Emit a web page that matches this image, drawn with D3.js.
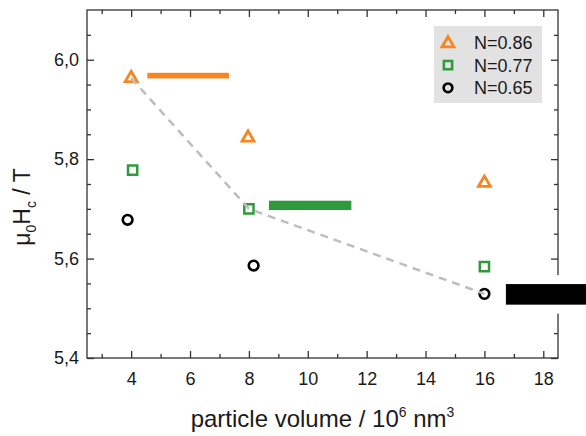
<!DOCTYPE html>
<html>
<head>
<meta charset="utf-8">
<script src="https://cdn.jsdelivr.net/npm/d3@7.9.0/dist/d3.min.js"></script>
<style>
  html, body { margin: 0; padding: 0; background: #fff; }
  svg { display: block; font-family: "Liberation Sans", Arial, sans-serif; }
</style>
</head>
<body>
<svg id="chart" width="586" height="436"></svg>
<script>
// values
const seriesNames = ['N=0.86', 'N=0.77', 'N=0.65'];
const seriesColors = ['#f7861f', '#2f9a3b', '#000000'];
const seriesShapes = ['triangle', 'square', 'circle'];

const volN086 = [4, 7.97, 16];
const hcN086 = [5.963, 5.843, 5.752];
const volN077 = [4.05, 8, 16];
const hcN077 = [5.778, 5.700, 5.584];
const volN065 = [3.88, 8.16, 16];
const hcN065 = [5.678, 5.586, 5.529];

// dashed guide through the best points
const guideVol = [4, 8, 16];
const guideHc = [5.963, 5.700, 5.529];

// horizontal bands (range in volume, level and half-width in Hc)
const bandStart = [4.55, 8.68, 16.73];
const bandEnd = [7.32, 11.48, 19.45];
const bandLevel = [5.968, 5.707, 5.528];
const bandHalf = [0.0057, 0.0094, 0.0207];

const xMajorTicks = [4, 6, 8, 10, 12, 14, 16, 18];
const xMinorTicks = [3, 5, 7, 9, 11, 13, 15, 17];
const yMajorTicks = [5.4, 5.6, 5.8, 6.0];
const yMinorTicks = d3.range(5.45, 6.1, 0.05).filter(v => !yMajorTicks.some(t => Math.abs(t - v) < 1e-6));

const width = 586, height = 436;
const margin = { top: 10, right: 28, bottom: 78, left: 87 };
const innerW = width - margin.left - margin.right;
const innerH = height - margin.top - margin.bottom;

const svg = d3.select('#chart');
const g = svg.append('g').attr('transform', `translate(${margin.left},${margin.top})`);

const x = d3.scaleLinear().domain([2.5, 18.5]).range([0, innerW]);
const y = d3.scaleLinear().domain([5.4, 6.1]).range([innerH, 0]);

const commaFmt = d3.formatLocale({ decimal: ',', thousands: '.', grouping: [3], currency: ['', ''] }).format('.1f');

const axisColor = '#333';
const textColor = '#1a1a1a';

function styleAxis(sel) {
  sel.select('.domain').remove();
  sel.selectAll('.tick line').attr('stroke', axisColor).attr('stroke-width', 1.3);
  sel.selectAll('.tick text').attr('fill', textColor).style('font-size', '18px');
}

// bottom axis
g.append('g').attr('transform', `translate(0,${innerH})`)
  .call(d3.axisBottom(x).tickValues(xMajorTicks).tickSizeInner(-7).tickSizeOuter(0).tickPadding(14).tickFormat(d3.format('d')))
  .call(styleAxis);
g.append('g').attr('transform', `translate(0,${innerH})`)
  .call(d3.axisBottom(x).tickValues(xMinorTicks).tickSizeInner(-4).tickSizeOuter(0).tickFormat(''))
  .call(styleAxis);
// top axis
g.append('g')
  .call(d3.axisTop(x).tickValues(xMajorTicks).tickSizeInner(-7).tickSizeOuter(0).tickFormat(''))
  .call(styleAxis);
g.append('g')
  .call(d3.axisTop(x).tickValues(xMinorTicks).tickSizeInner(-4).tickSizeOuter(0).tickFormat(''))
  .call(styleAxis);
// left axis
g.append('g')
  .call(d3.axisLeft(y).tickValues(yMajorTicks).tickSizeInner(-7).tickSizeOuter(0).tickPadding(8).tickFormat(commaFmt))
  .call(styleAxis);
g.append('g')
  .call(d3.axisLeft(y).tickValues(yMinorTicks).tickSizeInner(-4).tickSizeOuter(0).tickFormat(''))
  .call(styleAxis);
// right axis
g.append('g').attr('transform', `translate(${innerW},0)`)
  .call(d3.axisRight(y).tickValues(yMajorTicks).tickSizeInner(-7).tickSizeOuter(0).tickFormat(''))
  .call(styleAxis);
g.append('g').attr('transform', `translate(${innerW},0)`)
  .call(d3.axisRight(y).tickValues(yMinorTicks).tickSizeInner(-4).tickSizeOuter(0).tickFormat(''))
  .call(styleAxis);

// frame
g.append('rect')
  .attr('width', innerW).attr('height', innerH)
  .attr('fill', 'none').attr('stroke', axisColor).attr('stroke-width', 1.3);

// bands
bandLevel.forEach((lvl, i) => {
  g.append('rect')
    .attr('x', x(bandStart[i]))
    .attr('y', y(lvl + bandHalf[i]))
    .attr('width', x(bandEnd[i]) - x(bandStart[i]))
    .attr('height', y(lvl - bandHalf[i]) - y(lvl + bandHalf[i]))
    .attr('fill', seriesColors[i])
    .attr('stroke', i === 2 ? '#fff' : 'none')
    .attr('stroke-width', i === 2 ? 18 : 0)
    .style('paint-order', 'stroke');
});

// markers
function markerPath(shape, scale) {
  if (shape === 'triangle') return d3.symbol(d3.symbolTriangle, 62 * scale * scale)();
  if (shape === 'square') return d3.symbol(d3.symbolSquare, 85 * scale * scale)();
  return d3.symbol(d3.symbolCircle, Math.PI * 4.85 * 4.85 * scale * scale)();
}
const strokeW = { triangle: 2.8, square: 2.5, circle: 2.6 };

const seriesData = [
  volN086.map((v, i) => [v, hcN086[i]]),
  volN077.map((v, i) => [v, hcN077[i]]),
  volN065.map((v, i) => [v, hcN065[i]])
];

seriesData.forEach((pts, s) => {
  g.selectAll(null).data(pts).enter().append('path')
    .attr('transform', d => `translate(${x(d[0])},${y(d[1])})`)
    .attr('d', markerPath(seriesShapes[s], 1))
    .attr('fill', 'none')
    .attr('stroke', seriesColors[s])
    .attr('stroke-width', strokeW[seriesShapes[s]])
    .attr('stroke-linejoin', 'miter');
});

// dashed guide
const line = d3.line().x(d => x(d[0])).y(d => y(d[1]));
g.append('path')
  .datum(guideVol.map((v, i) => [v, guideHc[i]]))
  .attr('d', line)
  .attr('fill', 'none')
  .attr('stroke', '#bdbdbd')
  .attr('stroke-width', 2.5)
  .attr('stroke-dasharray', '8,6');

// legend
const legend = svg.append('g').attr('transform', 'translate(434,26)');
legend.append('rect').attr('width', 108).attr('height', 77).attr('fill', '#e2e2e2');
const rowY = [16.5, 39.2, 61.8];
seriesNames.forEach((name, i) => {
  legend.append('path')
    .attr('transform', `translate(14,${rowY[i] + (seriesShapes[i] === 'triangle' ? 1 : 0)})`)
    .attr('d', markerPath(seriesShapes[i], seriesShapes[i] === 'triangle' ? 1 : 0.9))
    .attr('fill', 'none')
    .attr('stroke', seriesColors[i])
    .attr('stroke-width', strokeW[seriesShapes[i]]);
  legend.append('text')
    .attr('x', 40).attr('y', rowY[i]).attr('dy', '0.36em')
    .attr('fill', textColor)
    .style('font-size', '18px')
    .text(name);
});

// x title
const xt = svg.append('text')
  .attr('x', margin.left + innerW / 2).attr('y', 427)
  .attr('text-anchor', 'middle').attr('fill', textColor)
  .style('font-size', '24px');
xt.append('tspan').text('particle volume / 10');
xt.append('tspan').attr('dy', -10).style('font-size', '14px').text('6');
xt.append('tspan').attr('dy', 10).text(' nm');
xt.append('tspan').attr('dy', -10).style('font-size', '14px').text('3');

// y title
const yt = svg.append('text')
  .attr('transform', 'translate(29.5,207) rotate(-90)')
  .attr('text-anchor', 'middle').attr('fill', textColor)
  .style('font-size', '23px');
yt.append('tspan').text('μ');
yt.append('tspan').attr('dy', 6).style('font-size', '14px').text('0');
yt.append('tspan').attr('dy', -6).text('H');
yt.append('tspan').attr('dy', 6).style('font-size', '14px').text('c');
yt.append('tspan').attr('dy', -6).text(' / T');
</script>
</body>
</html>
